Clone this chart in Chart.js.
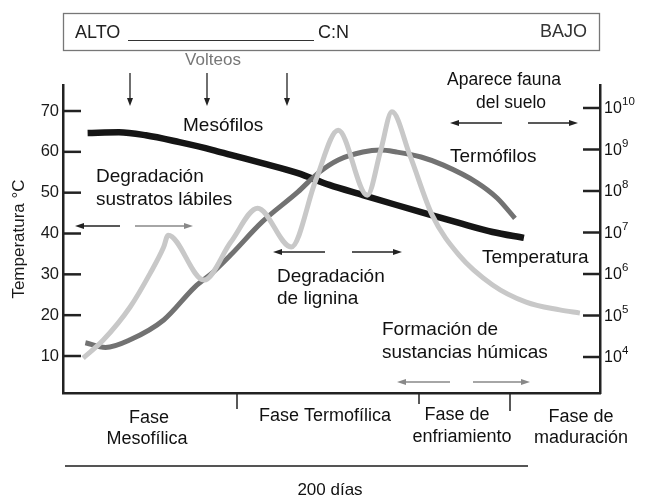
<!DOCTYPE html>
<html>
<head>
<meta charset="utf-8">
<script src="https://cdn.jsdelivr.net/npm/chart.js@4"></script>
<style>
  html, body { margin: 0; padding: 0; background: #fff; }
  #wrap { width: 646px; height: 499px; }
</style>
</head>
<body>
<div id="wrap"><canvas id="compostChart" width="646" height="499"></canvas></div>
<script>
// ticks
const tempTicks = [10, 20, 30, 40, 50, 60, 70];
const popTicks = [1e4, 1e5, 1e6, 1e7, 1e8, 1e9, 1e10];

// Temperatura (°C) vs días
const tempDays = [9, 18, 30, 39, 45, 47, 63, 75, 87, 102, 113, 123, 136, 142, 147, 155, 165, 177, 192, 207, 222, 231];
const tempValues = [9.5, 13.9, 22.0, 30.3, 36.7, 39.6, 28.6, 37.9, 46.2, 36.7, 53.1, 65.3, 49.4, 60.4, 69.8, 59.2, 44.5, 34.7, 27.4, 23.2, 21.3, 20.5];

// Mesófilos (UFC) vs días
const mesoDays = [11, 25, 37, 52, 67, 75, 89, 105, 119, 134, 149, 160, 177, 192, 206];
const mesoValues = [2.5e9, 2.6e9, 2.2e9, 1.5e9, 9.7e8, 7.4e8, 4.7e8, 2.7e8, 1.4e8, 8e7, 4.6e7, 3.1e7, 1.7e7, 1.03e7, 7.4e6];

// Termófilos (UFC) vs días
const termoDays = [10, 19, 30, 45, 59, 67, 75, 89, 105, 114, 123, 134, 142, 149, 160, 170, 185, 194, 202];
const termoValues = [2.2e4, 1.7e4, 2.6e4, 7.8e4, 4.9e5, 1.1e6, 2.9e6, 1.8e7, 9.5e7, 2.7e8, 5.6e8, 8.7e8, 9.7e8, 8.7e8, 6.6e8, 4.2e8, 1.6e8, 6.8e7, 2.2e7];

const FONT = '"Liberation Sans", Arial, sans-serif';
const INK = "#111";

function pts(xs, ys) {
    return xs.map((x, i) => ({ x: x, y: ys[i] }));
}

function arrow(ctx, x1, y, x2, color) {
    const dir = x2 > x1 ? 1 : -1;
    ctx.strokeStyle = color;
    ctx.fillStyle = color;
    ctx.lineWidth = 1.6;
    ctx.beginPath();
    ctx.moveTo(x1, y);
    ctx.lineTo(x2 - dir * 6, y);
    ctx.stroke();
    ctx.beginPath();
    ctx.moveTo(x2, y);
    ctx.lineTo(x2 - dir * 9, y - 3);
    ctx.lineTo(x2 - dir * 9, y + 3);
    ctx.closePath();
    ctx.fill();
}

function downArrow(ctx, x, y1, y2) {
    ctx.strokeStyle = "#222";
    ctx.fillStyle = "#222";
    ctx.lineWidth = 1.3;
    ctx.beginPath();
    ctx.moveTo(x, y1);
    ctx.lineTo(x, y2 - 5);
    ctx.stroke();
    ctx.beginPath();
    ctx.moveTo(x, y2);
    ctx.lineTo(x - 3, y2 - 8);
    ctx.lineTo(x + 3, y2 - 8);
    ctx.closePath();
    ctx.fill();
}

function text(ctx, s, x, y, align, size, color) {
    ctx.font = size + "px " + FONT;
    ctx.textAlign = align;
    ctx.textBaseline = "middle";
    ctx.fillStyle = color || INK;
    ctx.fillText(s, x, y);
}

// tick marks drawn inside the plot, right-axis power labels, soft curves
const insideTicks = {
    id: "insideTicks",
    beforeDatasetsDraw(chart) {
        chart.ctx.save();
        chart.ctx.filter = "blur(0.7px)";
    },
    afterDatasetsDraw(chart) {
        chart.ctx.restore();
        const ctx = chart.ctx;
        const a = chart.chartArea;
        const yT = chart.scales.yTemp;
        const yP = chart.scales.yPop;
        ctx.save();
        ctx.strokeStyle = "#222";
        ctx.lineWidth = 2.5;
        tempTicks.forEach(v => {
            const y = yT.getPixelForValue(v);
            ctx.beginPath();
            ctx.moveTo(a.left, y);
            ctx.lineTo(a.left + 18, y);
            ctx.stroke();
        });
        popTicks.forEach(v => {
            const y = yP.getPixelForValue(v);
            ctx.beginPath();
            ctx.moveTo(a.right - 17, y);
            ctx.lineTo(a.right, y);
            ctx.stroke();
            const exp = String(Math.round(Math.log10(v)));
            text(ctx, "10", a.right + 4, y + 1, "left", 16);
            text(ctx, exp, a.right + 22, y - 6, "left", 11.5);
        });
        ctx.restore();
    }
};

const annotations = {
    id: "annotations",
    afterDraw(chart) {
        const ctx = chart.ctx;
        const a = chart.chartArea;
        ctx.save();

        // C:N box
        ctx.strokeStyle = "#777";
        ctx.lineWidth = 1.3;
        ctx.strokeRect(63.5, 13.5, 536, 37);
        text(ctx, "ALTO", 75, 33, "left", 18, "#222");
        ctx.strokeStyle = "#333";
        ctx.lineWidth = 1;
        ctx.beginPath();
        ctx.moveTo(128, 40.5);
        ctx.lineTo(314, 40.5);
        ctx.stroke();
        text(ctx, "C:N", 318, 33, "left", 18, "#222");
        text(ctx, "BAJO", 587, 32, "right", 18, "#333");

        // Volteos
        text(ctx, "Volteos", 213, 60, "center", 17, "#777");
        [130, 207, 287].forEach(x => downArrow(ctx, x, 73, 106));

        // curve labels and processes
        text(ctx, "Mesófilos", 183, 126, "left", 19);
        text(ctx, "Aparece fauna", 504, 80, "center", 17.5);
        text(ctx, "del suelo", 511, 103, "center", 17.5);
        arrow(ctx, 502, 123, 450, "#222");
        arrow(ctx, 528, 123, 578, "#222");
        text(ctx, "Termófilos", 450, 157, "left", 19);

        text(ctx, "Degradación", 96, 177, "left", 19);
        text(ctx, "sustratos lábiles", 96, 200, "left", 19);
        arrow(ctx, 120, 226, 75, "#222");
        arrow(ctx, 135, 226, 193, "#888");

        text(ctx, "Temperatura", 482, 258, "left", 19);
        arrow(ctx, 325, 252, 273, "#222");
        arrow(ctx, 352, 252, 402, "#222");
        text(ctx, "Degradación", 277, 277, "left", 19);
        text(ctx, "de lignina", 277, 299, "left", 19);

        text(ctx, "Formación de", 382, 330, "left", 19);
        text(ctx, "sustancias húmicas", 382, 353, "left", 19);
        arrow(ctx, 450, 382, 397, "#888");
        arrow(ctx, 473, 382, 530, "#888");

        // phase separators
        ctx.strokeStyle = "#222";
        ctx.lineWidth = 1.5;
        [[237, 409], [419, 404], [510, 411]].forEach(t => {
            ctx.beginPath();
            ctx.moveTo(t[0], a.bottom);
            ctx.lineTo(t[0], t[1]);
            ctx.stroke();
        });
        text(ctx, "Fase", 149, 418, "center", 18);
        text(ctx, "Mesofílica", 147, 439, "center", 18);
        text(ctx, "Fase Termofílica", 325, 416, "center", 18);
        text(ctx, "Fase de", 457, 415, "center", 18);
        text(ctx, "enfriamiento", 462, 437, "center", 18);
        text(ctx, "Fase de", 581, 417, "center", 18);
        text(ctx, "maduración", 581, 438, "center", 18);

        // duration bar
        ctx.strokeStyle = "#555";
        ctx.lineWidth = 2;
        ctx.beginPath();
        ctx.moveTo(65, 466);
        ctx.lineTo(528, 466);
        ctx.stroke();
        text(ctx, "200 días", 330, 490, "center", 17);

        ctx.restore();
    }
};

new Chart(document.getElementById("compostChart"), {
    type: "line",
    data: {
        datasets: [
            {
                label: "Temperatura",
                data: pts(tempDays, tempValues),
                yAxisID: "yTemp",
                borderColor: "#c8c8c8",
                borderWidth: 5,
                pointRadius: 0,
                cubicInterpolationMode: "monotone"
            },
            {
                label: "Termófilos",
                data: pts(termoDays, termoValues),
                yAxisID: "yPop",
                borderColor: "#727272",
                borderWidth: 5,
                pointRadius: 0,
                cubicInterpolationMode: "monotone"
            },
            {
                label: "Mesófilos",
                data: pts(mesoDays, mesoValues),
                yAxisID: "yPop",
                borderColor: "#151515",
                borderWidth: 6.5,
                borderCapStyle: "butt",
                pointRadius: 0,
                cubicInterpolationMode: "monotone"
            }
        ]
    },
    options: {
        responsive: false,
        animation: false,
        layout: { padding: { top: 85, bottom: 105, left: 0, right: 0 } },
        plugins: {
            legend: { display: false },
            tooltip: { enabled: false }
        },
        scales: {
            x: {
                type: "linear",
                min: 0,
                max: 240,
                ticks: { display: false },
                grid: { drawOnChartArea: false, drawTicks: false },
                border: { color: "#222", width: 2.5 },
                afterFit: s => { s.height = 1; }
            },
            yTemp: {
                type: "linear",
                position: "left",
                min: 0.94,
                max: 76.37,
                afterBuildTicks: s => { s.ticks = tempTicks.map(v => ({ value: v })); },
                afterFit: s => { s.width = 63; },
                ticks: {
                    color: "#1a1a1a",
                    padding: 4,
                    font: { family: FONT, size: 16.5 }
                },
                grid: { drawOnChartArea: false, drawTicks: false },
                border: { color: "#222", width: 2.5 },
                title: {
                    display: true,
                    text: "Temperatura °C",
                    color: "#1a1a1a",
                    padding: { top: 9, bottom: 0 },
                    font: { family: FONT, size: 17 }
                }
            },
            yPop: {
                type: "logarithmic",
                position: "right",
                min: Math.pow(10, 3.133),
                max: Math.pow(10, 10.554),
                afterBuildTicks: s => { s.ticks = popTicks.map(v => ({ value: v })); },
                afterFit: s => { s.width = 46; },
                ticks: { display: false },
                grid: { drawOnChartArea: false, drawTicks: false },
                border: { color: "#222", width: 2.5 }
            }
        }
    },
    plugins: [insideTicks, annotations]
});
</script>
</body>
</html>
